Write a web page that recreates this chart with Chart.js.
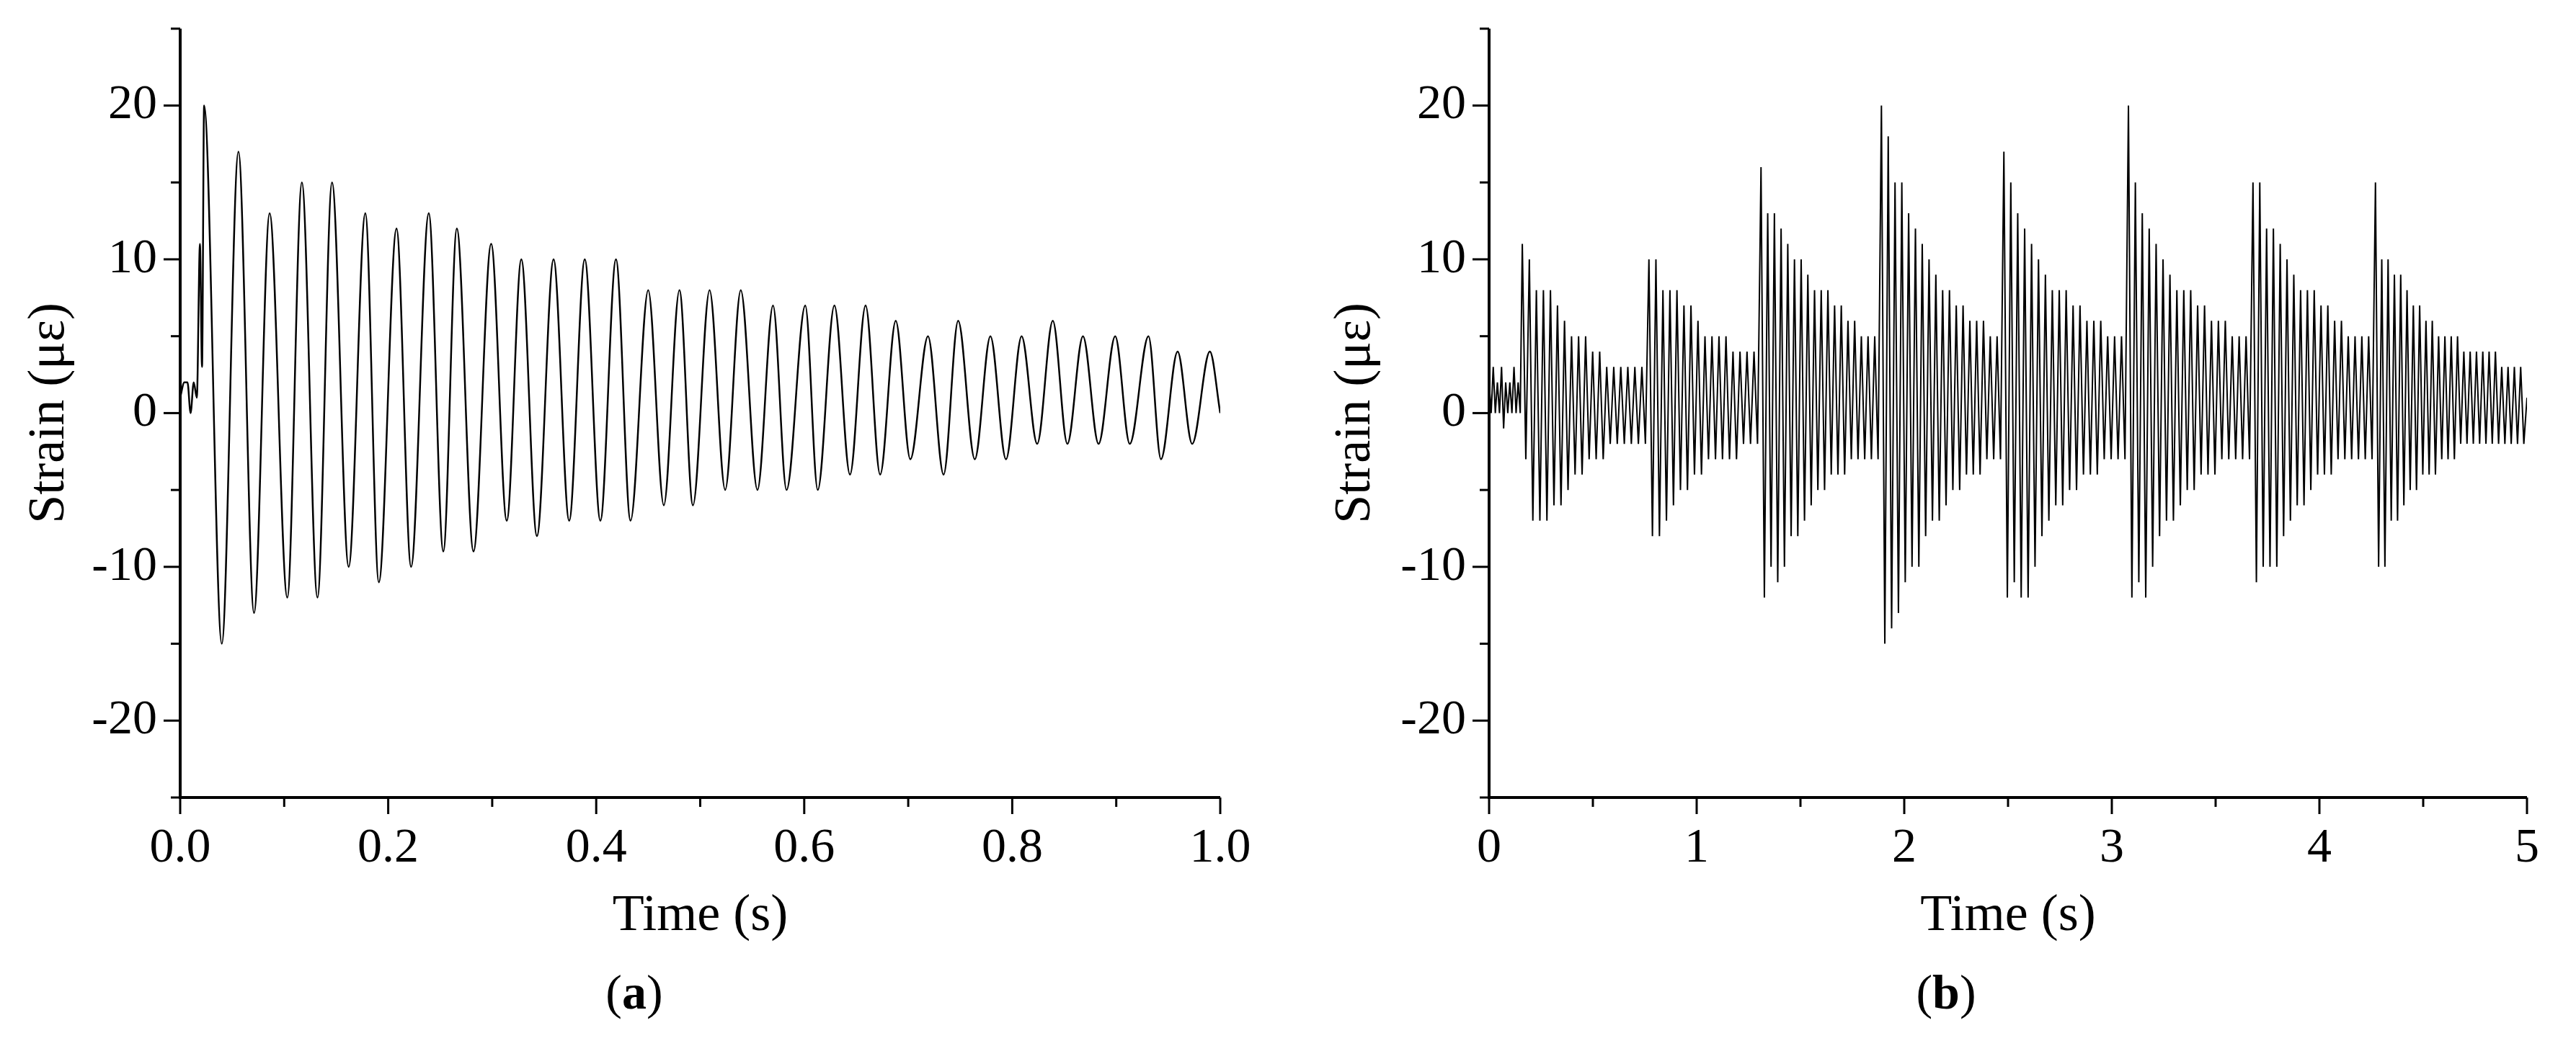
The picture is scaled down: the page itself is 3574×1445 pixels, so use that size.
<!DOCTYPE html>
<html><head><meta charset="utf-8">
<script src="https://cdn.jsdelivr.net/npm/chart.js@4/dist/chart.umd.min.js"></script>
<style>
body{margin:0;background:#fff;width:3574px;height:1445px;overflow:hidden;position:relative;font-family:"Liberation Serif",serif}
.c{position:absolute;top:-33px;width:1787px;height:1478px}
.lab{position:absolute;top:1377px;transform:translate(-50%,-50%);font-size:68px;color:#000;line-height:1}
</style></head><body>
<div class="c" style="left:0"><canvas id="ca"></canvas></div>
<div class="c" style="left:1787px"><canvas id="cb"></canvas></div>
<div class="lab" style="left:880px">(<b>a</b>)</div>
<div class="lab" style="left:2700px">(<b>b</b>)</div>
<script>
// ---- Panel (a): free-decay signal ----
const aStartTimes = [0,0.004,0.007,0.010,0.013,0.016,0.019,0.021];
const aStartValues = [1,2,2,0,2,1,11,3];
const aPeakTimes = [0.023,0.056,0.086,0.117,0.146,0.178,0.208,0.239,0.266,0.299,0.328,0.359,0.389,0.419,0.450,0.480,0.509,0.539,0.570,0.601,0.629,0.659,0.688,0.719,0.748,0.779,0.809,0.839,0.868,0.899,0.931,0.959,0.990];
const aPeakValues = [20,17,13,15,15,13,12,13,12,11,10,10,10,10,8,8,8,8,7,7,7,7,6,5,6,5,5,6,5,5,5,4,4];
const aTroughTimes = [0.040,0.071,0.103,0.132,0.162,0.191,0.222,0.253,0.282,0.314,0.343,0.374,0.404,0.433,0.465,0.493,0.524,0.555,0.583,0.613,0.644,0.673,0.702,0.734,0.764,0.794,0.824,0.853,0.883,0.913,0.943,0.973];
const aTroughValues = [-15,-13,-12,-12,-10,-11,-10,-9,-9,-7,-8,-7,-7,-7,-6,-6,-5,-5,-5,-5,-4,-4,-3,-4,-3,-3,-2,-2,-2,-2,-3,-2];
const aEndTimes = [1.0];
const aEndValues = [0];
const aXTicks = [0,0.2,0.4,0.6,0.8,1.0];
// ---- Panel (b): repeated impact bursts ----
const burstStarts = [0.16,0.77,1.31,1.89,2.48,3.08,3.68,4.27,5.0];
const burstPeaks = [
 [11,10,8,8,8,7,6,5,5,5,4,4,3,3,3,3,3,3],
 [10,10,8,8,8,7,7,6,5,5,5,5,4,4,4,4],
 [16,13,13,12,11,10,10,9,8,8,8,7,7,6,6,5,5,5],
 [20,18,15,15,13,12,11,10,9,8,8,7,7,6,6,6,5,5],
 [17,15,13,12,11,10,9,8,8,8,7,7,6,6,6,5,5,5],
 [20,15,13,12,11,10,9,8,8,8,7,7,6,6,6,5,5,5],
 [15,15,12,12,11,10,9,8,8,8,7,7,6,6,5,5,5,5],
 [15,10,10,9,9,8,7,7,6,6,5,5,5,5,4,4,4,4,4,4,3,3,3,3]
];
const burstTroughs = [
 [-3,-7,-7,-7,-6,-6,-5,-4,-4,-3,-3,-3,-2,-2,-2,-2,-2,-2],
 [-8,-8,-7,-6,-5,-5,-4,-4,-3,-3,-3,-3,-3,-2,-2,-2],
 [-12,-10,-11,-10,-8,-8,-7,-6,-5,-5,-4,-4,-4,-3,-3,-3,-3,-3],
 [-15,-14,-13,-11,-10,-10,-8,-7,-7,-6,-5,-5,-4,-4,-4,-3,-3,-3],
 [-12,-11,-12,-12,-10,-8,-7,-6,-6,-5,-5,-4,-4,-4,-3,-3,-3,-3],
 [-12,-11,-12,-10,-8,-7,-7,-6,-5,-5,-4,-4,-4,-3,-3,-3,-3,-3],
 [-11,-10,-10,-10,-8,-7,-6,-6,-5,-4,-4,-4,-3,-3,-3,-3,-3,-3],
 [-10,-10,-7,-7,-6,-5,-5,-4,-4,-4,-3,-3,-3,-2,-2,-2,-2,-2,-2,-2,-2,-2,-2,-2]
];
const preTimes = [0,0.01,0.02,0.03,0.04,0.05,0.06,0.07,0.08,0.09,0.10,0.11,0.12,0.13,0.14,0.15];
const preValues = [2,0,3,0,2,0,3,-1,2,0,2,0,3,0,2,0];
const bXTicks = [0,1,2,3,4,5];
const yTicks = [-20,-10,0,10,20];

const aData = aStartTimes.map((t,i)=>({x:t,y:aStartValues[i]}))
  .concat(aPeakTimes.map((t,i)=>({x:t,y:aPeakValues[i]})))
  .concat(aTroughTimes.map((t,i)=>({x:t,y:aTroughValues[i]})))
  .concat(aEndTimes.map((t,i)=>({x:t,y:aEndValues[i]})))
  .sort((p,q)=>p.x-q.x);
const bData = preTimes.map((t,i)=>({x:t,y:preValues[i]}));
burstPeaks.forEach((pk,k)=>{
  const t0=burstStarts[k], dt=(burstStarts[k+1]-t0)/pk.length;
  pk.forEach((p,i)=>{ bData.push({x:t0+i*dt,y:p}); bData.push({x:t0+(i+0.5)*dt,y:burstTroughs[k][i]}); });
});
bData.push({x:5.0,y:1});

const FONT='"Liberation Serif", serif';
const OFF=33, TOP=7, BOTTOM=1107+OFF, H=1445+OFF;
function axesPlugin(xMinorStep,xTitle,yTitleX){
 return {id:'ax',afterDraw(c){
  const ctx=c.ctx, a=c.chartArea, xs=c.scales.x, ys=c.scales.y;
  ctx.save(); ctx.strokeStyle='#000'; ctx.lineWidth=4;
  ctx.beginPath(); ctx.moveTo(a.left,a.top); ctx.lineTo(a.left,a.bottom); ctx.lineTo(a.right,a.bottom); ctx.stroke();
  ctx.lineWidth=3;
  for(let v=-25;v<=25;v+=5){const y=ys.getPixelForValue(v);const L=(v%10===0)?23:13;ctx.beginPath();ctx.moveTo(a.left,y);ctx.lineTo(a.left-L,y);ctx.stroke();}
  const xmax=xs.max;
  for(let i=0;i*xMinorStep<=xmax+1e-9;i++){const v=i*xMinorStep;const x=xs.getPixelForValue(v);const L=(i%2===0)?23:13;ctx.beginPath();ctx.moveTo(x,a.bottom);ctx.lineTo(x,a.bottom+L);ctx.stroke();}
  ctx.fillStyle='#000'; ctx.font='72px '+FONT; ctx.textAlign='center'; ctx.textBaseline='middle';
  ctx.fillText(xTitle,(a.left+a.right)/2,1272+OFF);
  ctx.translate(yTitleX,(a.top+a.bottom)/2); ctx.rotate(-Math.PI/2); ctx.fillText('Strain (με)',0,0);
  ctx.restore();
 }};
}
function mk(id,data,xmax,xTicks,xStep,fmt,padL,padR,yTitleX,lw,mono){
 return new Chart(document.getElementById(id),{type:'line',
  data:{datasets:[{data,borderColor:'#000',borderWidth:lw,pointRadius:0,tension:0,cubicInterpolationMode:mono?'monotone':'default'}]},
  options:{responsive:false,animation:false,devicePixelRatio:1,
   layout:{padding:{left:0,right:padR,top:TOP,bottom:0}},
   plugins:{legend:{display:false},tooltip:{enabled:false}},
   scales:{
    x:{type:'linear',min:0,max:xmax,border:{display:false},grid:{display:false,drawTicks:false},
       afterBuildTicks:s=>{s.ticks=xTicks.map(v=>({value:v}));},
       afterFit:s=>{s.height=H-BOTTOM;},
       ticks:{padding:30,font:{family:FONT,size:68},color:'#000',maxRotation:0,callback:fmt}},
    y:{min:-25,max:25,border:{display:false},grid:{display:false,drawTicks:false},
       afterBuildTicks:s=>{s.ticks=yTicks.map(v=>({value:v}));},
       afterFit:s=>{s.width=padL;},
       ticks:{padding:32,font:{family:FONT,size:68},color:'#000'}}
   }},
  plugins:[axesPlugin(xStep,'Time (s)',yTitleX)]});
}
for(const id of ['ca','cb']){const cv=document.getElementById(id);cv.width=1787;cv.height=H;cv.style.width='1787px';cv.style.height=H+'px';}
mk('ca',aData,1.0,aXTicks,0.1,v=>Number(v).toFixed(1),250,94,69,2.5,true);
mk('cb',bData,5,bXTicks,0.5,v=>String(v),279,68,94,2,false);
</script></body></html>
